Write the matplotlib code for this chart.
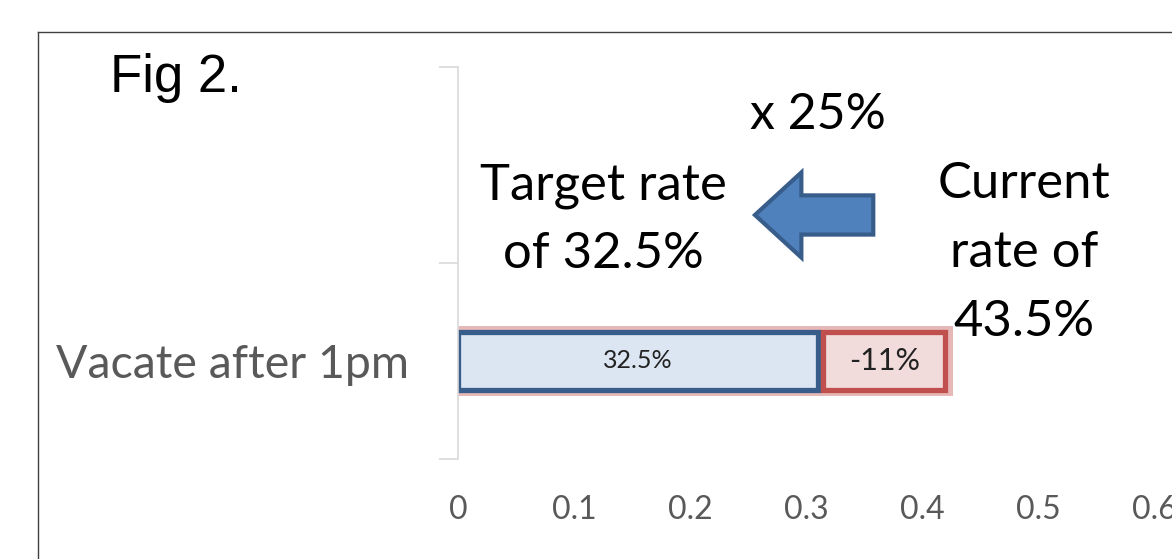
import matplotlib.pyplot as plt
from matplotlib.patches import FancyArrow
from matplotlib.lines import Line2D

# chart values
categories = ['', 'Vacate after 1pm']
current_rate = 0.427      # pale bar behind (current rate)
target_rate = 0.31        # blue bar
reduction_start = 0.315
reduction = 0.105         # red bar
target_label = '32.5%'
reduction_label = '-11%'
xticks = [0, 0.1, 0.2, 0.3, 0.4, 0.5, 0.6]
xtick_labels = ['0', '0.1', '0.2', '0.3', '0.4', '0.5', '0.6']

W, H = 1172, 559
fig = plt.figure(figsize=(W / 100, H / 100), dpi=100)
ax = fig.add_axes([458 / W, 1 - 459 / H, (1154 - 458) / W, (459 - 67) / H])

body_font = 'Lato'
grey = '#595959'

ax.barh(1, current_rate, height=0.36, color='#e6b9b8', zorder=1)
ax.barh(1, target_rate, height=0.3, color='#dce6f2', edgecolor='#385d8a',
        linewidth=3.8, zorder=2)
ax.barh(1, reduction, left=reduction_start, height=0.3, color='#f2dcdb',
        edgecolor='#c0504d', linewidth=3.8, zorder=2)
ax.text(target_rate / 2, 1, target_label, ha='center', va='center',
        fontsize=18, family=body_font, color='#222222', zorder=3)
ax.text(reduction_start + reduction / 2, 1, reduction_label, ha='center',
        va='center', fontsize=22, family=body_font, color='#222222', zorder=3)

ax.set_xlim(0, 0.6)
ax.set_ylim(1.5, -0.5)
ax.set_xticks(xticks)
ax.set_xticklabels(xtick_labels, family=body_font, fontsize=23, color=grey)
ax.set_yticks([0, 1])
ax.set_yticklabels(categories, family=body_font, fontsize=33.5, color=grey)
ax.set_yticks([-0.5, 0.5, 1.5], minor=True)
ax.tick_params(axis='y', which='major', length=0, pad=35)
ax.tick_params(axis='y', which='minor', length=14, color='#d9d9d9', width=1.2)
ax.tick_params(axis='x', length=0, pad=26)
for s in ['top', 'right', 'bottom']:
    ax.spines[s].set_visible(False)
ax.spines['left'].set_color('#d9d9d9')
ax.spines['left'].set_linewidth(1.2)

# annotations
ax.text(0.31, -0.255, 'x 25%', ha='center', va='center', fontsize=36,
        family=body_font, color='black')
ax.text(0.125, 0.28, 'Target rate\nof 32.5%', ha='center', va='center',
        fontsize=36.5, family=body_font, color='black', linespacing=1.6)
ax.text(0.488, 0.45, 'Current\nrate of\n43.5%', ha='center', va='center',
        fontsize=36.5, family=body_font, color='black', linespacing=1.62)
ax.add_patch(FancyArrow(0.358, 0.255, -0.102, 0, width=0.2, head_width=0.434,
                        head_length=0.04, length_includes_head=True,
                        facecolor='#4f81bd', edgecolor='#385d8a', linewidth=3,
                        zorder=4))

fig.text(110 / W, 1 - 78 / H, 'Fig 2.', ha='left', va='center', fontsize=38,
         family='Liberation Sans', color='black')

# outer frame
fig.add_artist(Line2D([38 / W, 1], [1 - 32 / H, 1 - 32 / H], color='#404040', lw=1))
fig.add_artist(Line2D([38 / W, 38 / W], [0, 1 - 32 / H], color='#404040', lw=1))

fig.savefig('out.png', dpi=100)
